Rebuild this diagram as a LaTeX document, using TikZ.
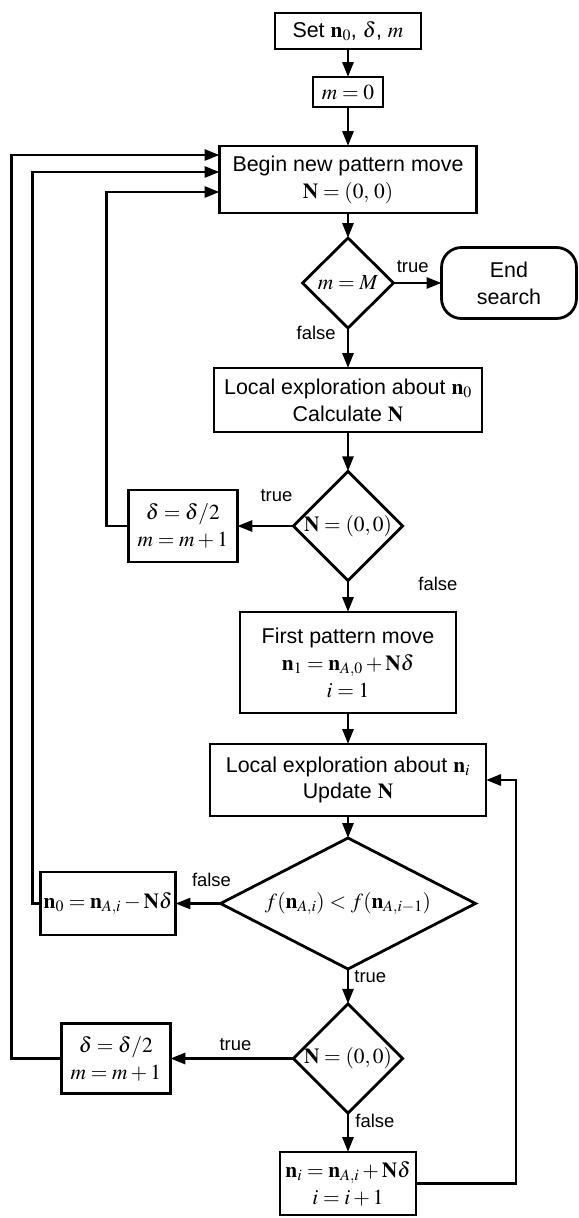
\documentclass[tikz,border=0pt]{standalone}
\usepackage{mathptmx}
\usepackage[no-math]{fontspec}
\setmainfont{Liberation Sans}
\usetikzlibrary{arrows.meta,positioning,shapes.geometric}

\begin{document}
\begin{tikzpicture}[
  x=1bp, y=-1bp,
  font=\fontsize{21.5}{27}\selectfont,
  node distance=30bp,
  procbox/.style={draw,line width=2.8bp,outer sep=0pt,align=center,inner sep=2bp},
  decbox/.style={draw,diamond,line width=2.8bp,outer sep=0pt,align=center,inner sep=0pt,shape aspect=1},
  endbox/.style={draw,rounded corners=20bp,line width=2.8bp,outer sep=0pt,align=center,inner sep=2bp},
  lbl/.style={font=\fontsize{18.5}{20}\selectfont,inner sep=1bp},
  arr/.style={-{Triangle[length=15bp,width=11bp]},line width=2.8bp}
]
\useasboundingbox (0,0) rectangle (579,1218);
% main column
\node[procbox,minimum width=146bp,minimum height=36bp] (s1) at (348,31) {Set $\mathbf{n}_0$, $\delta$, $m$};
\node[procbox,minimum width=70bp,minimum height=30bp] (s2) at (348,92) {$m=0$};
\node[procbox,minimum width=257bp,minimum height=67bp] (s3) at (348,179.5) {Begin new pattern move\\$\mathbf{N}=(0,\,0)$};
\node[decbox,minimum width=91bp,minimum height=90bp] (d1) at (348,283) {$m=M$};
\node[procbox,minimum width=268bp,minimum height=64bp] (s4) at (348,400) {Local exploration about $\mathbf{n}_0$\\Calculate $\mathbf{N}$};
\node[decbox,minimum width=101bp,minimum height=104bp] (d2) at (348,526) {$\mathbf{N}=(0,0)$};
\node[procbox,minimum width=216bp,minimum height=101bp] (s5) at (348,662.5) {First pattern move\\$\mathbf{n}_1=\mathbf{n}_{A,0}+\mathbf{N}\delta$\\$i=1$};
\node[procbox,minimum width=276bp,minimum height=72bp] (s6) at (348,780) {Local exploration about $\mathbf{n}_i$\\Update $\mathbf{N}$};
\node[decbox,shape aspect=2,minimum width=255bp,minimum height=131bp] (d3) at (348,903.5) {$f(\mathbf{n}_{A,i})<f(\mathbf{n}_{A,i-1})$};
\node[decbox,minimum width=102bp,minimum height=99bp] (d4) at (348,1058.5) {$\mathbf{N}=(0,0)$};
\node[procbox,minimum width=136bp,minimum height=63bp] (s7) at (348,1183.5) {$\mathbf{n}_i=\mathbf{n}_{A,i}+\mathbf{N}\delta$\\$i=i+1$};
% side boxes
\node[endbox,minimum width=135bp,minimum height=71bp,right=48bp of d1] (e1) {End\\search};
\node[procbox,minimum width=109bp,minimum height=72bp,left=56bp of d2] (h1) {$\delta=\delta/2$\\$m=m+1$};
\node[procbox,minimum width=135bp,minimum height=63bp,left=45bp of d3] (r1) {$\mathbf{n}_0=\mathbf{n}_{A,i}-\mathbf{N}\delta$};
\node[procbox,minimum width=109bp,minimum height=70bp,left=123bp of d4] (h2) {$\delta=\delta/2$\\$m=m+1$};
\foreach \a/\b in {s1/s2,s2/s3,s3/d1,s4/d2,s5/s6,s6/d3}
  \draw[arr] (\a) -- (\b);
\draw[arr] (d1) -- node[lbl,pos=0.4,above=8bp]{true} (e1);
\draw[arr] (d1) -- node[lbl,pos=0.12,left=10bp]{false} (s4);
\draw[arr] (d2) -- node[lbl,pos=0.3,above=22bp]{true} (h1);
\draw[arr] (d2) -- node[lbl,pos=0.1,right=68bp]{false} (s5);
\draw[arr] (d3) -- node[lbl,pos=0.2,above=14bp]{false} (r1);
\draw[arr] (d3) -- node[lbl,pos=0.22,right=4bp]{true} (d4);
\draw[arr] (d4) -- node[lbl,pos=0.47,above=5bp]{true} (h2);
\draw[arr] (d4) -- node[lbl,pos=0.2,right=5bp]{false} (s7);
% loops back to the pattern move
\draw[arr] (h1.west) -- ++(-22,0) |- ([yshift=-12.5bp]s3.west);
\draw[arr] (r1.west) -- ++(-8,0) |- ([yshift=7.5bp]s3.west);
\draw[arr] (h2.west) -- ++(-50,0) |- ([yshift=24.5bp]s3.west);
\draw[arr] (s7.east) -- ++(100,0) |- (s6.east);
\end{tikzpicture}
\end{document}
